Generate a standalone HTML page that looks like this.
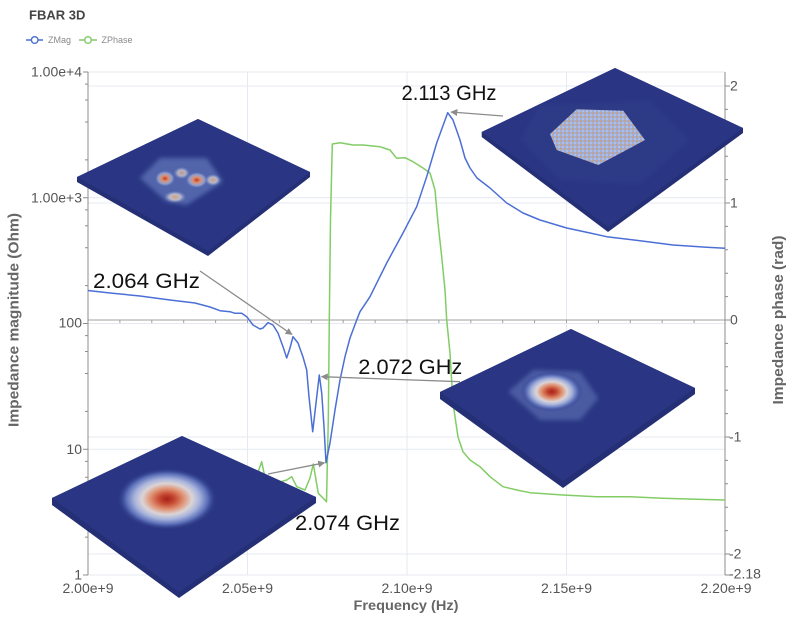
<!DOCTYPE html>
<html><head><meta charset="utf-8"><style>
html,body{margin:0;padding:0;background:#fff;}
svg{display:block;font-family:"Liberation Sans",Arial,sans-serif;}
</style></head><body>
<svg width="796" height="624" viewBox="0 0 796 624" xmlns="http://www.w3.org/2000/svg">
<defs>
<radialGradient id="spot" cx="50%" cy="50%" r="50%">
<stop offset="0" stop-color="#a3221b"/>
<stop offset="0.15" stop-color="#c4452f"/>
<stop offset="0.33" stop-color="#df9070"/>
<stop offset="0.5" stop-color="#dcd4d6"/>
<stop offset="0.65" stop-color="#a8b4dc"/>
<stop offset="0.82" stop-color="#5a6eb8"/>
<stop offset="1" stop-color="#2a3683" stop-opacity="0"/>
</radialGradient>
<radialGradient id="hot" cx="50%" cy="50%" r="50%">
<stop offset="0" stop-color="#c23a24"/>
<stop offset="0.35" stop-color="#dd9070"/>
<stop offset="0.7" stop-color="#aab6dc" stop-opacity="0.7"/>
<stop offset="1" stop-color="#6d82c4" stop-opacity="0"/>
</radialGradient>
<radialGradient id="warm" cx="50%" cy="50%" r="50%">
<stop offset="0" stop-color="#e2a878"/>
<stop offset="0.5" stop-color="#c8c4d0"/>
<stop offset="1" stop-color="#8a9ccf" stop-opacity="0"/>
</radialGradient>
<pattern id="sp" width="4" height="4" patternUnits="userSpaceOnUse">
<rect width="4" height="4" fill="#9eaed6"/>
<circle cx="1" cy="1" r="0.9" fill="#d99a6a"/>
<circle cx="3" cy="3" r="0.8" fill="#c9d3ea"/>
</pattern>
<filter id="bl" x="-20%" y="-20%" width="140%" height="140%"><feGaussianBlur stdDeviation="2"/></filter>
<filter id="bl1" x="-20%" y="-20%" width="140%" height="140%"><feGaussianBlur stdDeviation="1"/></filter>
<marker id="ah" viewBox="0 0 10 10" refX="9" refY="5" markerWidth="7" markerHeight="7" orient="auto" markerUnits="userSpaceOnUse">
<path d="M0,0 L10,5 L0,10 z" fill="#8c8c8c"/>
</marker>
</defs>

<!-- title & legend -->
<text x="29" y="19.3" font-size="13" font-weight="bold" fill="#444">FBAR 3D</text>
<line x1="26" y1="40" x2="43" y2="40" stroke="#4c6fd6" stroke-width="1.5"/>
<circle cx="34.7" cy="40" r="3.3" fill="#fff" stroke="#4c6fd6" stroke-width="1.4"/>
<text x="48" y="43.2" font-size="9" fill="#8a8a8a">ZMag</text>
<line x1="79" y1="40" x2="97" y2="40" stroke="#82cc66" stroke-width="1.5"/>
<circle cx="88" cy="40" r="3.3" fill="#fff" stroke="#82cc66" stroke-width="1.4"/>
<text x="101.5" y="43.2" font-size="9" fill="#8a8a8a">ZPhase</text>

<!-- gridlines -->
<g stroke="#e6e9f2" stroke-width="1" fill="none">
<path d="M247.5 72V575M407 72V575M566.5 72V575"/>
<path d="M88 72H725M88 86H725M88 197.75H725M88 203H725M88 323.5H725M88 437H725M88 449.25H725M88 554H725M88 575H725"/>
</g>
<!-- zero line with x minor ticks -->
<path d="M88 320H725" stroke="#a0a0a0" stroke-width="1"/>
<path d="M119.9 320v3M151.8 320v3M183.7 320v3M215.6 320v3M247.5 320v3M279.4 320v3M311.3 320v3M343.2 320v3M375.1 320v3M407 320v3M438.9 320v3M470.8 320v3M502.7 320v3M534.6 320v3M566.5 320v3M598.4 320v3M630.3 320v3M662.2 320v3M694.1 320v3" stroke="#a0a0a0" stroke-width="1"/>

<!-- left axis -->
<path d="M88 72V575" stroke="#8c8c8c" stroke-width="1"/>
<path d="M83 575h5M83 449.25h5M83 323.5h5M83 197.75h5M83 72h5" stroke="#8c8c8c" stroke-width="1"/>
<path d="M85 537.15h3M85 499.3h3M85 477.2h3M85 461.4h3M85 411.4h3M85 373.55h3M85 351.45h3M85 335.65h3M85 285.65h3M85 247.8h3M85 225.7h3M85 209.9h3M85 159.9h3M85 122.05h3M85 99.95h3M85 84.15h3" stroke="#8c8c8c" stroke-width="1"/>
<g font-size="14" fill="#555" text-anchor="end">
<text x="82" y="76.6">1.00e+4</text>
<text x="82" y="202.4">1.00e+3</text>
<text x="82" y="327.6">100</text>
<text x="82" y="453.8">10</text>
<text x="82" y="579.4">1</text>
</g>

<!-- right axis -->
<path d="M725 72V575" stroke="#8c8c8c" stroke-width="1"/>
<path d="M725 86h5M725 203h5M725 320h5M725 437h5M725 554h5M725 575h5" stroke="#8c8c8c" stroke-width="1"/>
<path d="M725 109.4h3M725 132.8h3M725 156.2h3M725 179.6h3M725 226.4h3M725 249.8h3M725 273.2h3M725 296.6h3M725 343.4h3M725 366.8h3M725 390.2h3M725 413.6h3M725 460.4h3M725 483.8h3M725 507.2h3M725 530.6h3" stroke="#8c8c8c" stroke-width="1"/>
<g font-size="14" fill="#555">
<text x="730" y="90.6">2</text>
<text x="730" y="207.6">1</text>
<text x="730" y="324.6">0</text>
<text x="729" y="441.6">-1</text>
<text x="729" y="558.6">-2</text>
<text x="729" y="578.4">-2.18</text>
</g>

<!-- x tick labels -->
<g font-size="14" fill="#555" text-anchor="middle">
<text x="88" y="593">2.00e+9</text>
<text x="247.5" y="593">2.05e+9</text>
<text x="407" y="593">2.10e+9</text>
<text x="566.5" y="593">2.15e+9</text>
<text x="726" y="593">2.20e+9</text>
</g>

<!-- axis titles -->
<text x="406" y="610" font-size="14" font-weight="bold" fill="#666" text-anchor="middle" textLength="105" lengthAdjust="spacingAndGlyphs">Frequency (Hz)</text>
<text transform="translate(18.5,320) rotate(-90)" font-size="15" font-weight="bold" fill="#666" text-anchor="middle" textLength="214" lengthAdjust="spacingAndGlyphs">Impedance magnitude (Ohm)</text>
<text transform="translate(783,320) rotate(-90)" font-size="15" font-weight="bold" fill="#666" text-anchor="middle" textLength="169" lengthAdjust="spacingAndGlyphs">Impedance phase (rad)</text>

<!-- ZPhase -->
<polyline fill="none" stroke="#82cc66" stroke-width="1.5" stroke-linejoin="round" points="88,490 150,490 200,488 240,486 250,484 256,478 261.7,461.7 265,478 272,484 280,482 286.7,480 291.7,476.7 296.7,486.7 305,490 310,478 313.3,464 318.3,493.3 323,498 326.5,501.7 328.3,420 329.3,320 330.5,220 332.3,144 340,142.7 353,145 363,145 380,146.7 390,150 396.7,158.3 405,157.7 413,161.7 423,168 430,173 435,190 438,223 441.7,256.7 445,290 446.7,320 450,353 453,403 458,437 463,451.7 470,460 480,466.7 490,476.7 503,486.7 516.7,490 530,492.7 563,495 596.7,496.7 630,496.7 663,498.3 696.7,499.3 725,500"/>
<!-- ZMag -->
<polyline fill="none" stroke="#4c6fd6" stroke-width="1.5" stroke-linejoin="round" points="88,290.5 110,293 140,296 170,300 195,303 210,307 220,310.7 230,311.7 235,313.3 241.7,313.3 246.7,316.7 253,325 260,329 263,328 268,322.7 273,325 278,333 283,346.7 286.7,358 290,348 293,336.7 298,343 303,357 306.7,370 309,396.7 312.7,431.7 316,403 319.3,375 321.7,393 324,426.7 326,462.7 330,443 335,410 340,380 345,356.7 350,338 356.7,320 360,311.7 370,296.7 386.7,263 403,233 416.7,206.7 426.7,176.7 436.7,143 447.7,112.7 453,120 460,140 465,158 470,168 477,178 490,188 506.7,203 523,213 540,220 566.7,228 590,233 606.7,236.7 640,240.7 673,245 706.7,247.3 725,248.3"/>

<!-- Plate 1 (top-left) -->
<polygon points="198,119 310,172 310,177 208,256 77,182 77,177" fill="#242f76"/>
<polygon points="198,119 310,172 208,251 77,177" fill="#2a3683"/>
<polygon points="160,158 206.7,158 223,181.7 186.7,205 166.7,201.7 140,178" fill="#6479bd" opacity="0.7" filter="url(#bl)"/>
<ellipse cx="181.7" cy="173" rx="8" ry="6" fill="url(#warm)" opacity="0.8"/>
<ellipse cx="165" cy="178.5" rx="10" ry="8" fill="url(#hot)"/>
<ellipse cx="196.7" cy="180" rx="11" ry="8" fill="url(#hot)"/>
<ellipse cx="213" cy="180" rx="8" ry="6" fill="url(#warm)" opacity="0.85"/>
<ellipse cx="175" cy="197" rx="11" ry="6" fill="url(#warm)" opacity="0.9"/>

<!-- Plate 2 (top-right) -->
<polygon points="615,68 743,128 743,133 608,232 481.7,137 481.7,132" fill="#242f76"/>
<polygon points="615,68 743,128 608,227 481.7,132" fill="#2a3683"/>
<polygon points="540,105 650,100 690,140 640,185 560,180 520,140" fill="#34428c" opacity="0.35" filter="url(#bl)"/>
<polygon points="576.7,109.3 623.3,110.7 645,140 598.3,165 556.7,150 550,134" fill="url(#sp)"/>

<!-- Plate 3 (middle-right) -->
<polygon points="571,329 695,388 695,394 563,488 440,399 440,392" fill="#242f76"/>
<polygon points="571,329 695,388 563,481 440,392" fill="#2a3683"/>
<polygon points="533.3,370 580,371.7 598.3,398.3 580,420 540,420 508.3,391.7" fill="#6c80c2" opacity="0.5" filter="url(#bl)"/>
<ellipse cx="551.7" cy="391.7" rx="31" ry="20" fill="url(#spot)"/>

<!-- Plate 4 (bottom-left) -->
<polygon points="182,436 316,497 316,503 179,598 52,505 52,498" fill="#242f76"/>
<polygon points="182,436 316,497 179,592 52,498" fill="#2a3683"/>
<ellipse cx="167" cy="499" rx="50" ry="31" fill="url(#spot)"/>

<!-- annotations -->
<g stroke="#8c8c8c" stroke-width="1.3" fill="none">
<line x1="503" y1="116" x2="451" y2="112" marker-end="url(#ah)"/>
<line x1="200" y1="271" x2="292" y2="334.5" marker-end="url(#ah)"/>
<line x1="460" y1="381.7" x2="321.5" y2="376.7" marker-end="url(#ah)"/>
<line x1="268" y1="474" x2="324.5" y2="462.8" marker-end="url(#ah)"/>
</g>
<g font-size="21" fill="#111">
<text x="401.5" y="100" textLength="95" lengthAdjust="spacingAndGlyphs">2.113 GHz</text>
<text x="93" y="288" textLength="107" lengthAdjust="spacingAndGlyphs">2.064 GHz</text>
<text x="358.3" y="374" textLength="104" lengthAdjust="spacingAndGlyphs">2.072 GHz</text>
<text x="295" y="530" textLength="105" lengthAdjust="spacingAndGlyphs">2.074 GHz</text>
</g>
</svg>
</body></html>
